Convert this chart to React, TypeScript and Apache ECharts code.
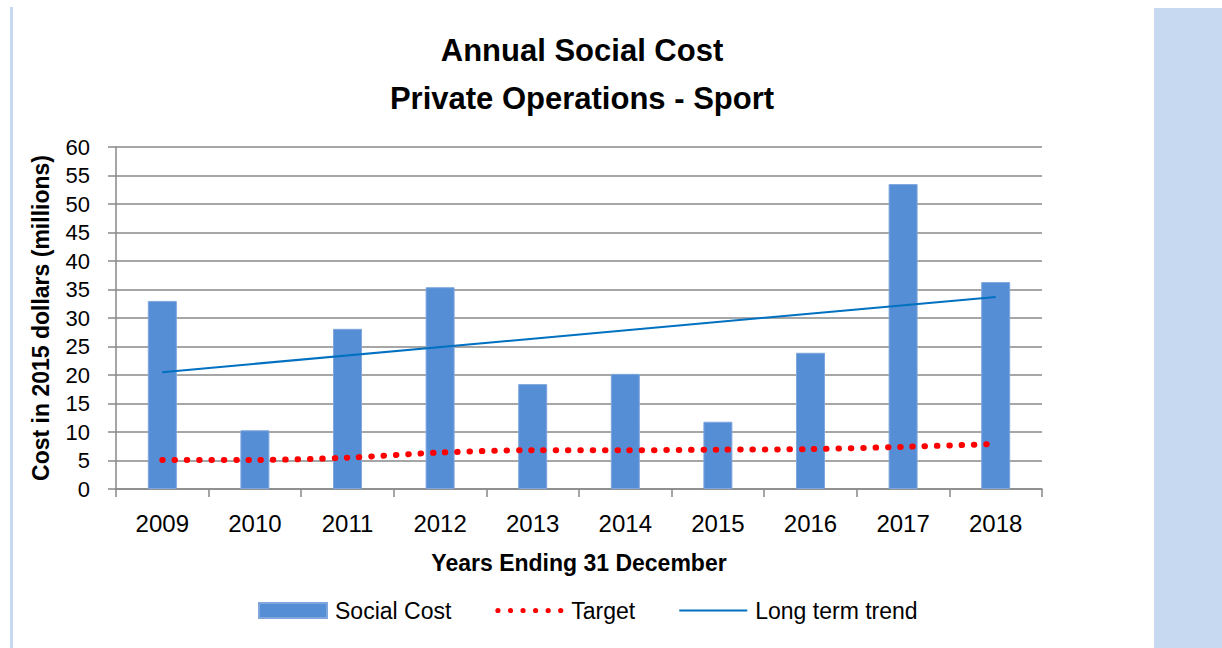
import React, { useEffect, useRef } from "react";
import * as echarts from "echarts";

const years = ["2009", "2010", "2011", "2012", "2013", "2014", "2015", "2016", "2017", "2018"];
const socialCost = [33.0, 10.3, 28.1, 35.4, 18.4, 20.2, 11.8, 23.9, 53.5, 36.3];
const target = [5.1, 5.1, 5.5, 6.4, 6.8, 6.8, 6.9, 7.0, 7.4, 7.9];
// long term trend: straight line read at first and last year
const trend = [20.5, null, null, null, null, null, null, null, null, 33.7];
const titleLines = ["Annual Social Cost", "Private Operations - Sport"];

const FONT = "'Liberation Sans', Arial, sans-serif";
const GRID = "#898989";

function dotsPath(): string {
  const r = 2.7;
  let d = "path://";
  for (let i = 0; i < 6; i++) {
    const cx = r + 13 * i;
    d += `M${cx - r},${r}a${r},${r} 0 1,0 ${2 * r},0a${r},${r} 0 1,0 ${-2 * r},0Z`;
  }
  return d;
}

export default function App() {
  const ref = useRef<HTMLDivElement>(null);
  useEffect(() => {
    if (!ref.current) return;
    const chart = echarts.init(ref.current, null, { renderer: "svg" });
    chart.setOption({
      animation: false,
      backgroundColor: "#ffffff",
      textStyle: { fontFamily: FONT },
      grid: { left: 116, right: 180, top: 147, bottom: 159 },
      graphic: [
        { type: "rect", shape: { x: 10, y: 7, width: 3, height: 641 }, style: { fill: "#C6D9F1" }, silent: true },
        { type: "rect", shape: { x: 1154, y: 8, width: 68, height: 640 }, style: { fill: "#C6D9F1" }, silent: true },
        {
          type: "text", x: 582, y: 50,
          style: { text: titleLines[0], fill: "#000", font: `bold 31px ${FONT}`, textAlign: "center", textVerticalAlign: "middle" },
        },
        {
          type: "text", x: 582, y: 98,
          style: { text: titleLines[1], fill: "#000", font: `bold 31px ${FONT}`, textAlign: "center", textVerticalAlign: "middle" },
        },
      ],
      legend: {
        left: 253,
        top: 594,
        itemGap: 44,
        itemWidth: 68,
        itemHeight: 15,
        symbolKeepAspect: true,
        textStyle: { fontSize: 23, color: "#000", fontFamily: FONT, padding: [0, 0, 0, 3] },
        data: [
          { name: "Social Cost", icon: "rect" },
          { name: "Target", icon: dotsPath() },
          { name: "Long term trend", icon: "path://M0,0H68V2H0Z" },
        ],
      },
      xAxis: {
        type: "category",
        data: years,
        name: "Years Ending 31 December",
        nameLocation: "middle",
        nameGap: 62,
        nameTextStyle: { fontSize: 23, fontWeight: "bold", color: "#000", fontFamily: FONT },
        axisLine: { lineStyle: { color: GRID, width: 1.5 } },
        axisTick: { show: true, length: 8, lineStyle: { color: GRID, width: 1.5 } },
        axisLabel: { fontSize: 24, color: "#000", margin: 22, fontFamily: FONT },
      },
      yAxis: {
        type: "value",
        min: 0,
        max: 60,
        interval: 5,
        name: "Cost in 2015 dollars (millions)",
        nameLocation: "middle",
        nameGap: 64,
        nameTextStyle: { fontSize: 23, fontWeight: "bold", color: "#000", fontFamily: FONT },
        axisLine: { show: true, lineStyle: { color: GRID, width: 1.5 } },
        axisTick: { show: true, length: 8, lineStyle: { color: GRID, width: 1.5 } },
        axisLabel: { fontSize: 22, color: "#000", margin: 26, fontFamily: FONT },
        splitLine: { lineStyle: { color: GRID, width: 1.5 } },
      },
      series: [
        {
          name: "Social Cost",
          type: "bar",
          data: socialCost,
          barWidth: 29,
          itemStyle: { color: "#558ED5", borderColor: "#7FA7DD", borderWidth: 1 },
        },
        {
          name: "Target",
          type: "line",
          data: target,
          smooth: 0.3,
          symbol: "none",
          itemStyle: { color: "#FF0000" },
          lineStyle: { color: "#FF0000", width: 6, type: [0.5, 11.8], cap: "round" },
          z: 3,
        },
        {
          name: "Long term trend",
          type: "line",
          data: trend,
          connectNulls: true,
          symbol: "none",
          itemStyle: { color: "#0070C0" },
          lineStyle: { color: "#0070C0", width: 2 },
          z: 4,
        },
      ],
    });
    return () => chart.dispose();
  }, []);
  return (
    <div
      ref={ref}
      style={{ position: "absolute", left: 0, top: 0, width: 1222, height: 648 }}
    />
  );
}
